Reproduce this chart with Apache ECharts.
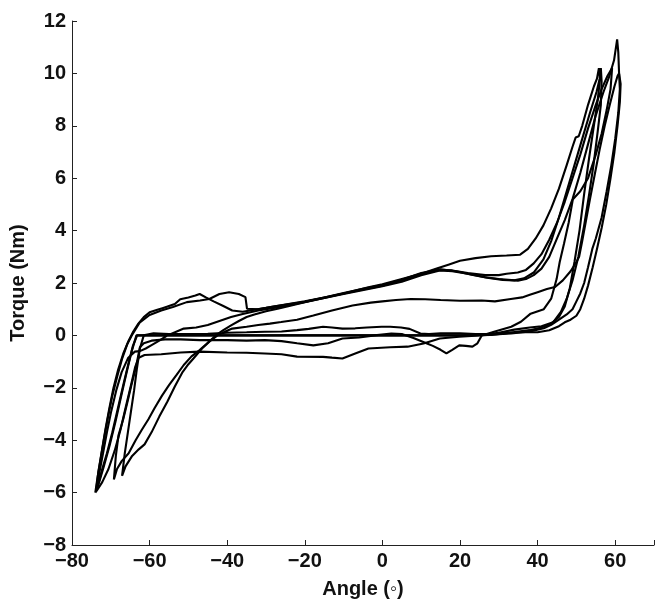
<!DOCTYPE html>
<html>
<head>
<meta charset="utf-8">
<script src="https://cdn.jsdelivr.net/npm/echarts@6/dist/echarts.min.js"></script>
<style>
html,body{margin:0;padding:0;background:#fff;}
#chart{width:657px;height:604px;}
</style>
</head>
<body>
<div id="chart"></div>
<script>
// Axis ticks
const xTicks = [-80, -60, -40, -20, 0, 20, 40, 60];
const yTicks = [-8, -6, -4, -2, 0, 2, 4, 6, 8, 10, 12];

// Loop 1: upper hump path, 3 Nm plateau, peak ~10.2, back along the zero line
const loop1 = [[-73.8,-5.95],[-73.2,-5.2],[-72.3,-4.4],[-71.4,-3.6],[-70.4,-2.8],[-69.3,-2.0],[-68.1,-1.3],[-66.8,-0.7],[-65.4,-0.2],[-64.2,0.15],[-62.9,0.45],[-61.5,0.7],[-60,0.88],[-58,0.98],[-56.5,1.05],[-55.4,1.1],[-53.5,1.2],[-52.1,1.38],[-50,1.45],[-48.2,1.52],[-47.1,1.58],[-45.5,1.45],[-43.5,1.3],[-41,1.12],[-38.7,0.95],[-36,0.9],[-33,0.98],[-30,1.05],[-25,1.18],[-20,1.3],[-15,1.45],[-10,1.6],[-5,1.75],[0,1.9],[5,2.1],[10,2.35],[14,2.55],[17,2.7],[20,2.85],[24,2.95],[28,3.02],[32,3.05],[35.5,3.08],[37.5,3.3],[39.5,3.7],[41.5,4.2],[43.5,4.85],[45.5,5.6],[47.5,6.5],[49,7.2],[49.8,7.55],[50.6,7.6],[51.5,8.0],[53,8.8],[54.5,9.5],[55.3,9.8],[55.8,10.2],[56.1,9.8],[55.5,9.0],[54.5,8.0],[53.3,6.8],[52,5.4],[50.8,4.0],[49.5,2.8],[48.3,1.8],[47,1.1],[45.5,0.7],[43.5,0.45],[41,0.3],[38,0.2],[35,0.15],[32,0.08],[28,0.02],[20,0.0],[10,0.0],[0,0.0],[-10,0.0],[-20,0.0],[-30,0.0],[-40,0.0],[-50,0.0],[-58,0.0],[-63.2,0.0],[-64.3,-0.4],[-65.5,-1.1],[-66.8,-1.9],[-68.2,-2.8],[-69.6,-3.7],[-71,-4.5],[-72.4,-5.2],[-73.6,-5.9]];

// Loop 2: second hump, tallest peak ~11.3, back along the lowest (-0.8 Nm) line
const loop2 = [[-74.0,-6.0],[-73.4,-5.4],[-72.6,-4.7],[-71.7,-3.9],[-70.7,-3.1],[-69.6,-2.3],[-68.4,-1.6],[-67.1,-0.9],[-65.8,-0.35],[-64.4,0.05],[-62.5,0.5],[-60,0.78],[-57,0.95],[-54,1.08],[-50.4,1.27],[-47,1.33],[-44.6,1.39],[-42,1.58],[-39.5,1.65],[-37,1.58],[-35.3,1.46],[-34.9,1.02],[-32,1.0],[-28,1.1],[-20,1.28],[-10,1.58],[0,1.88],[5,2.05],[10,2.3],[14.8,2.48],[18,2.45],[22,2.35],[26.5,2.22],[30,2.15],[34.9,2.09],[37,2.15],[39,2.3],[41,2.55],[43,3.0],[45,3.7],[47,4.4],[49,5.2],[51,6.2],[53,7.3],[55,8.4],[57,9.3],[58.5,9.9],[59.7,10.5],[60.5,11.3],[60.8,10.8],[61,10.0],[61.2,9.4],[60.8,8.5],[60,7.5],[59,6.5],[57.8,5.5],[56.5,4.5],[55,3.7],[54.1,3.3],[53,2.6],[52,2.0],[51,1.6],[50,1.3],[49,1.0],[47.5,0.8],[45.7,0.62],[43.5,0.4],[41.6,0.27],[38,0.15],[35,0.1],[33.2,0.07],[30,0.05],[25,0.0],[19.8,-0.05],[14.8,-0.12],[10.6,-0.31],[6.5,-0.43],[2,-0.45],[-3.6,-0.5],[-7,-0.69],[-10.3,-0.88],[-13,-0.85],[-15.3,-0.82],[-22,-0.81],[-26,-0.72],[-30.3,-0.69],[-35,-0.66],[-40,-0.65],[-47.1,-0.62],[-52,-0.65],[-57,-0.72],[-61.3,-0.75],[-62.8,-0.85],[-63.7,-1.2],[-64.8,-1.9],[-66.1,-2.7],[-67.5,-3.6],[-69,-4.4],[-70.6,-5.1],[-72.2,-5.6],[-73.5,-5.9],[-74,-6.0]];

// Loop 3: gradual rise from the -69 tip, peak ~10.2, back via the wavy line
const loop3 = [[-69.2,-5.5],[-68.4,-5.1],[-67.2,-4.8],[-65.4,-4.5],[-63.6,-4.0],[-62,-3.6],[-60.3,-3.2],[-58.7,-2.77],[-56.8,-2.3],[-55,-1.9],[-53,-1.5],[-51.2,-1.13],[-49.2,-0.8],[-47.1,-0.56],[-45.5,-0.35],[-44,-0.15],[-42.5,0.05],[-41,0.2],[-39,0.38],[-37,0.55],[-35,0.7],[-33,0.8],[-30,0.92],[-27,1.02],[-24,1.12],[-20,1.27],[-15,1.43],[-10,1.6],[-3.6,1.84],[0,1.95],[5,2.15],[10,2.35],[14.8,2.5],[18,2.48],[22,2.38],[26.5,2.3],[30,2.3],[32,2.35],[34.9,2.4],[37,2.5],[39,2.75],[41,3.1],[43,3.65],[45,4.3],[47,5.1],[49,6.0],[51,6.9],[53,7.9],[55,8.8],[56.5,9.4],[58,9.9],[59.2,10.2],[58.8,9.4],[57.8,8.6],[56.5,7.7],[55,6.9],[53,6.0],[51,5.5],[49.1,5.2],[48,4.3],[46.8,3.5],[45.7,2.8],[44.9,2.15],[43.5,1.4],[41.6,1.0],[38.2,0.83],[35.7,0.52],[33.2,0.33],[29,0.15],[25.6,0.0],[24.5,-0.3],[23.2,-0.43],[21.5,-0.4],[19.8,-0.38],[18,-0.55],[16.5,-0.69],[15,-0.55],[13,-0.4],[11.5,-0.31],[8,-0.1],[5,0.05],[2.3,0.07],[-2,0.0],[-6,-0.08],[-10.3,-0.12],[-14,-0.3],[-17.8,-0.38],[-22,-0.3],[-26,-0.22],[-30.3,-0.18],[-35,-0.2],[-40,-0.18],[-47.1,-0.18],[-52,-0.15],[-56,-0.15],[-59.5,-0.2],[-61.5,-0.3],[-62.5,-0.45],[-63.5,-1.2],[-64.7,-1.9],[-65.8,-2.6],[-66.8,-3.2],[-68,-3.8],[-68.7,-4.6],[-69.2,-5.5]];

// Loop 4: gradual rise from the -67 tip, middle (1.3 Nm) line, peak ~10, back via the 0.3 Nm line
const loop4 = [[-67.1,-5.36],[-66.2,-5.0],[-64.5,-4.6],[-62.8,-4.35],[-61.3,-4.16],[-59.5,-3.7],[-57.5,-3.1],[-55.4,-2.52],[-53.5,-1.95],[-51.5,-1.4],[-50,-1.1],[-48.7,-0.88],[-46.5,-0.5],[-44.6,-0.24],[-42.5,0.0],[-40.5,0.15],[-38.7,0.26],[-35,0.33],[-32,0.4],[-29,0.45],[-26.1,0.51],[-22,0.6],[-17.8,0.76],[-13,0.95],[-7.7,1.14],[-3,1.25],[0,1.3],[3.5,1.35],[7.3,1.39],[11,1.38],[15,1.35],[20,1.32],[25.6,1.33],[29,1.3],[33.1,1.39],[36,1.45],[38,1.55],[40,1.65],[42.4,1.77],[44.5,1.85],[46.5,2.1],[48.5,2.45],[50,2.8],[50.7,3.0],[51.5,3.6],[52.5,4.4],[53.5,5.2],[54.8,6.2],[56,7.1],[57.3,8.0],[58.6,8.8],[59.8,9.5],[60.6,9.9],[61,10.0],[61.4,9.6],[61.2,8.9],[60.6,8.0],[59.8,7.0],[58.8,6.0],[57.7,5.0],[56.5,4.1],[55.3,3.3],[54.2,2.6],[53,1.9],[52,1.4],[51,1.0],[50,0.75],[48.5,0.6],[47,0.5],[45.5,0.35],[43,0.2],[40,0.12],[36,0.12],[32,0.1],[28,0.05],[24,0.05],[20,0.08],[15,0.08],[12,0.05],[9.8,0.07],[7,0.25],[4.8,0.3],[2,0.33],[-0.2,0.33],[-4,0.3],[-7,0.27],[-10.3,0.26],[-13,0.3],[-15.3,0.33],[-19,0.25],[-22,0.2],[-26,0.15],[-30.3,0.14],[-35,0.12],[-40,0.1],[-45,0.06],[-50,0.05],[-55,0.05],[-59,0.08],[-61.5,0.0],[-62.5,-0.5],[-63.3,-1.3],[-64,-2.1],[-64.8,-2.9],[-65.6,-3.7],[-66.4,-4.5],[-67.1,-5.36]];

// Loop 5: rise from -0.6 Nm on the left into the main band, peak ~10.2, back along zero
const loop5 = [[-73.6,-5.85],[-72.9,-5.2],[-72,-4.5],[-71,-3.7],[-69.9,-2.9],[-68.6,-2.1],[-67.2,-1.4],[-65.5,-0.85],[-63.8,-0.62],[-62.5,-0.6],[-61,-0.5],[-59.6,-0.38],[-57.5,-0.2],[-55.4,0.0],[-53,0.15],[-51.2,0.26],[-48,0.3],[-45,0.4],[-42,0.55],[-39,0.7],[-36,0.82],[-32,0.95],[-28,1.05],[-24,1.15],[-20,1.28],[-15,1.45],[-10,1.62],[-5,1.78],[0,1.92],[5,2.12],[10,2.38],[15,2.52],[19,2.45],[23,2.32],[27,2.2],[31,2.12],[34,2.1],[36.5,2.18],[39,2.4],[41.5,2.9],[43.5,3.6],[45.5,4.5],[47.5,5.5],[49.5,6.5],[51.5,7.5],[53.5,8.5],[55.2,9.3],[56,9.8],[56.3,10.2],[56.5,9.7],[56.3,8.8],[55.5,7.8],[54.5,6.6],[53.3,5.4],[52,4.2],[50.5,3.0],[49,2.1],[47.5,1.4],[46,0.9],[44,0.5],[41,0.35],[38,0.3],[34,0.22],[30,0.1],[26,0.02],[20,0.0],[0,0.0],[-20,0.0],[-40,0.0],[-60,0.0],[-63.4,0.0],[-64.6,-0.6],[-65.9,-1.4],[-67.3,-2.3],[-68.8,-3.3],[-70.3,-4.2],[-71.8,-5.0],[-73.0,-5.6],[-73.6,-5.85]];

const loops = [loop1, loop2, loop3, loop4, loop5];

const fmt = v => String(v).replace('-', '\u2212');
const font = 'Liberation Sans, Arial, Helvetica, sans-serif';

const chart = echarts.init(document.getElementById('chart'));
chart.setOption({
  animation: false,
  backgroundColor: '#fff',
  grid: {left: 63, right: -2, top: 21, bottom: 58},
  xAxis: {
    type: 'value', min: -80, max: 70, interval: 20,
    name: 'Angle (\u25E6)', nameLocation: 'middle', nameGap: 34,
    nameTextStyle: {fontFamily: font, fontWeight: 'bold', fontSize: 20, color: '#111'},
    axisLine: {show: true, onZero: false, lineStyle: {color: '#222', width: 1}},
    axisTick: {show: true, inside: true, length: 5, lineStyle: {color: '#222'}},
    splitLine: {show: false},
    axisLabel: {
      fontFamily: font, fontWeight: 'bold', fontSize: 20, color: '#111', margin: 6,
      formatter: v => xTicks.includes(v) ? fmt(v) : ''
    }
  },
  yAxis: {
    type: 'value', min: -8, max: 12, interval: 2,
    name: 'Torque (Nm)', nameLocation: 'middle', nameGap: 44, nameRotate: 90,
    nameTextStyle: {fontFamily: font, fontWeight: 'bold', fontSize: 20, color: '#111'},
    axisLine: {show: true, onZero: false, lineStyle: {color: '#222', width: 1}},
    axisTick: {show: true, inside: true, length: 5, lineStyle: {color: '#222'}},
    splitLine: {show: false},
    axisLabel: {
      fontFamily: font, fontWeight: 'bold', fontSize: 20, color: '#111', margin: 6,
      formatter: v => yTicks.includes(v) ? fmt(v) : ''
    }
  },
  series: loops.map(d => ({
    type: 'line', data: d, showSymbol: false, symbol: 'none',
    lineStyle: {color: '#000', width: 2.1}, smooth: false, clip: false, z: 2
  }))
});
</script>
</body>
</html>
